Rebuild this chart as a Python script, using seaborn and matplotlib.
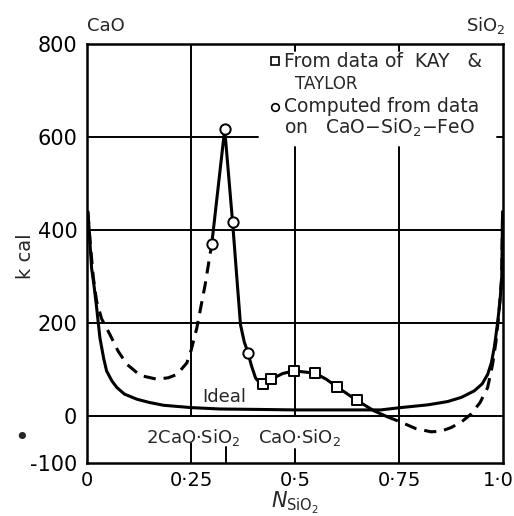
import matplotlib
matplotlib.use("Agg")
import matplotlib.pyplot as plt
import matplotlib.transforms as mtransforms
import seaborn as sns

# ---------------- data ----------------
ideal_x = [0.002, 0.005, 0.011, 0.017, 0.023, 0.031, 0.04, 0.047, 0.06, 0.072, 0.09, 0.12,
           0.15, 0.184, 0.25, 0.32, 0.42, 0.5, 0.6, 0.706, 0.754, 0.82, 0.867, 0.9,
           0.931, 0.95, 0.963, 0.972, 0.979, 0.987, 0.993, 0.997, 0.999]
ideal_y = [440, 404, 319, 280, 235, 169, 125, 98, 76, 62, 48, 37,
           30, 24, 19, 16, 15, 14, 14, 14, 19, 25, 32, 41,
           55, 70, 90, 115, 148, 201, 250, 300, 440]

left_dash_x = [0.002, 0.008, 0.015, 0.023, 0.035, 0.055, 0.075, 0.096, 0.128, 0.168,
               0.195, 0.216, 0.24, 0.25, 0.264, 0.284, 0.300]
left_dash_y = [440, 370, 300, 248, 210, 176, 140, 112, 88, 80,
               83, 90, 115, 141, 190, 283, 371]

mid_x = [0.300, 0.331, 0.350, 0.36, 0.369, 0.378, 0.387, 0.395, 0.405, 0.415, 0.423,
         0.443, 0.47, 0.497, 0.548, 0.575, 0.600, 0.648, 0.690, 0.72]
mid_y = [371, 617, 417, 300, 197, 160, 137, 110, 83, 72, 69,
         80, 92, 98, 93, 80, 64, 35, 12, 0]

right_dash_x = [0.72, 0.754, 0.79, 0.827, 0.85, 0.875, 0.9, 0.923, 0.945, 0.963, 0.975,
                0.983, 0.99, 0.997, 0.999]
right_dash_y = [0, -12, -26, -33, -32, -24, -12, 5, 30, 62, 112,
                160, 220, 300, 440]

circle_x = [0.300, 0.331, 0.350, 0.387]
circle_y = [371, 617, 417, 137]

square_x = [0.423, 0.443, 0.497, 0.548, 0.600, 0.648]
square_y = [69, 80, 98, 93, 64, 35]

x_ticks = [0, 0.25, 0.5, 0.75, 1.0]
x_tick_labels = ["0", "0·25", "0·5", "0·75", "1·0"]
y_ticks = [-100, 0, 200, 400, 600, 800]
y_tick_labels = ["-100", "0", "200", "400", "600", "800"]

legend_square_lines = ["From data of  KAY   &", "TAYLOR"]
legend_circle_lines = ["Computed from data", "on   CaO$-$SiO$_2$$-$FeO"]

# ---------------- figure ----------------
sns.set_style("white")
plt.rcParams["font.family"] = ["DejaVu Sans"]
plt.rcParams["mathtext.default"] = "regular"

fig = plt.figure(figsize=(5.14, 5.16), dpi=100)
ax = fig.add_axes([87 / 514, 1 - 463 / 516, 416 / 514, 419 / 516])
ax.set_xlim(0, 1.0)
ax.set_ylim(-100, 800)

def fr(v):
    return (v + 100) / 900.0

glw = 1.4
for yv in [0, 200, 400]:
    ax.axhline(yv, color="k", lw=glw, zorder=1)
ax.axhline(600, xmax=0.41, color="k", lw=glw, zorder=1)
ax.axhline(600, xmin=0.985, xmax=1, color="k", lw=glw, zorder=1)
ax.axvline(0.25, ymin=fr(0), ymax=1, color="k", lw=glw, zorder=1)
ax.axvline(0.25, ymin=0, ymax=fr(-57), color="k", lw=glw, zorder=1)
ax.axvline(1 / 3, ymin=0, ymax=fr(-65), color="k", lw=glw, zorder=1)
ax.axvline(0.5, ymin=fr(0), ymax=fr(579), color="k", lw=glw, zorder=1)
ax.axvline(0.5, ymin=0, ymax=fr(-70), color="k", lw=glw, zorder=1)
ax.axvline(0.75, ymin=0, ymax=fr(579), color="k", lw=glw, zorder=1)
for xv in [0.5, 0.75]:
    ax.axvline(xv, ymin=fr(785), ymax=1, color="k", lw=glw, zorder=1)

clw = 2.2
dash = (0, (4, 2.6))
sns.lineplot(x=ideal_x, y=ideal_y, color="k", lw=clw, sort=False, ax=ax, zorder=3)
sns.lineplot(x=left_dash_x, y=left_dash_y, color="k", lw=clw, sort=False, ax=ax,
             linestyle=dash, zorder=3)
sns.lineplot(x=mid_x, y=mid_y, color="k", lw=clw, sort=False, ax=ax, zorder=3)
sns.lineplot(x=right_dash_x, y=right_dash_y, color="k", lw=clw, sort=False, ax=ax,
             linestyle=dash, zorder=3)

sns.scatterplot(x=circle_x, y=circle_y, marker="o", s=55, facecolor="white",
                edgecolor="k", linewidth=1.4, ax=ax, zorder=5)
sns.scatterplot(x=square_x, y=square_y, marker="s", s=50, facecolor="white",
                edgecolor="k", linewidth=1.4, ax=ax, zorder=5)

for sp in ax.spines.values():
    sp.set_visible(True)
    sp.set_color("k")
    sp.set_linewidth(1.8)

ax.set_xticks(x_ticks, labels=x_tick_labels)
ax.set_yticks(y_ticks, labels=y_tick_labels)
ax.tick_params(axis="both", length=0, labelsize=14, colors="k")
ax.tick_params(axis="x", pad=6)
ax.tick_params(axis="y", pad=7)
ax.tick_params(axis="y", labelsize=15)
lastlab = ax.get_xticklabels()[-1]
lastlab.set_transform(lastlab.get_transform() +
                      mtransforms.ScaledTranslation(-5 / 100, 0, fig.dpi_scale_trans))

ax.set_xlabel("$\\mathit{N}_{\\mathrm{SiO_2}}$", fontsize=15, labelpad=0)
ax.set_ylabel("k cal", fontsize=14)
ax.yaxis.set_label_coords(-0.125, 0.494)

# annotations
ax.text(0.0, 1.043, "CaO", transform=ax.transAxes, fontsize=13, ha="left", va="center")
ax.text(1.005, 1.045, "SiO$_2$", transform=ax.transAxes, fontsize=13, ha="right", va="center")
ax.text(0.33, 42, "Ideal", fontsize=13, ha="center", va="center")
ax.text(0.255, -46, "2CaO·SiO$_2$", fontsize=13, ha="center", va="center")
ax.text(0.51, -46, "CaO·SiO$_2$", fontsize=13, ha="center", va="center")
fig.text(22 / 514, 1 - 438 / 516, "•", fontsize=18, ha="center", va="center")

# legend (keys and text placed in axes fractions)
lfs = 13.5
ax.plot([0.452], [0.959], transform=ax.transAxes, marker="s", ms=5.5, mfc="white",
        mec="k", mew=1.2, ls="none", clip_on=False, zorder=6)
ax.text(0.474, 0.959, legend_square_lines[0], transform=ax.transAxes, fontsize=lfs,
        ha="left", va="center")
ax.text(0.50, 0.905, legend_square_lines[1], transform=ax.transAxes, fontsize=lfs - 1.5,
        ha="left", va="center")
ax.plot([0.452], [0.850], transform=ax.transAxes, marker="o", ms=5.5, mfc="white",
        mec="k", mew=1.2, ls="none", clip_on=False, zorder=6)
ax.text(0.474, 0.850, legend_circle_lines[0], transform=ax.transAxes, fontsize=lfs,
        ha="left", va="center")
ax.text(0.474, 0.800, legend_circle_lines[1], transform=ax.transAxes, fontsize=lfs,
        ha="left", va="center")

fig.savefig("out.png", dpi=100, facecolor="white")
